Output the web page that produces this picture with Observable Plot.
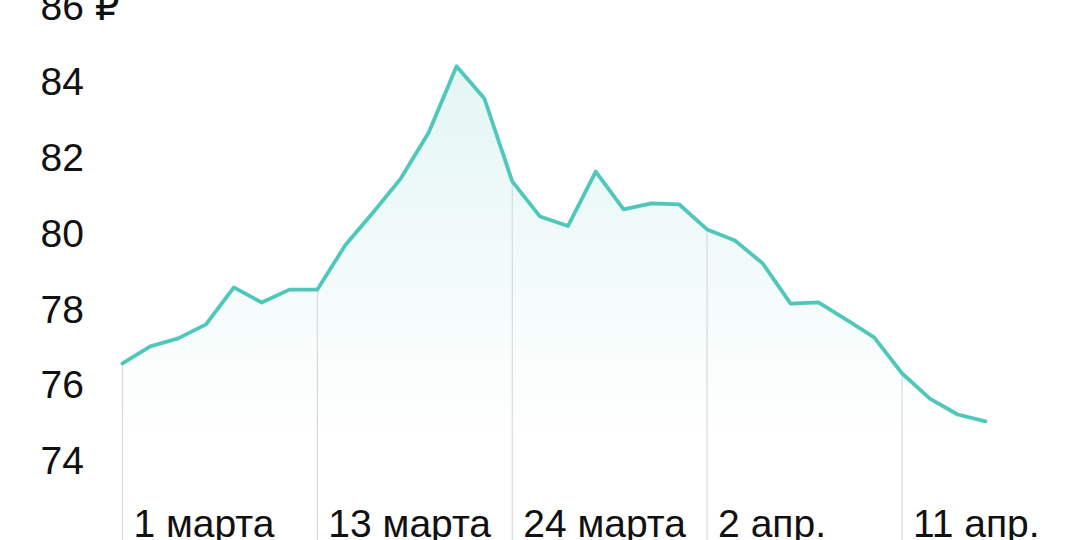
<!DOCTYPE html>
<html>
<head>
<meta charset="utf-8">
<script src="https://cdn.jsdelivr.net/npm/d3@7"></script>
<script src="https://cdn.jsdelivr.net/npm/@observablehq/plot@0.6"></script>
<style>
  html, body { margin: 0; padding: 0; background: #fff; }
  #chart svg { display: block; overflow: visible; }
</style>
</head>
<body>
<div id="chart"></div>
<script>
// Rate values (₽), one per trading day
const values = [
  76.59, 77.04, 77.25, 77.62, 78.60, 78.20, 78.54, 78.54,
  79.71, 80.58, 81.48, 82.69, 84.44, 83.59, 81.40, 80.47,
  80.22, 81.66, 80.66, 80.82, 80.79, 80.13, 79.84, 79.23,
  78.17, 78.20, 77.75, 77.28, 76.33, 75.66, 75.24, 75.06
];
// Labelled days (index into values) and their labels
const labelIndex = [0, 7, 14, 21, 28];
const labelText = ["1 марта", "13 марта", "24 марта", "2 апр.", "11 апр."];
const yTicks = [74, 76, 78, 80, 82, 84, 86];

const data = values.map((v, i) => ({i, v}));
const marks = labelIndex.map((i, k) => ({i, v: values[i], label: labelText[k]}));
const yMin = 71.91, yMax = 86.18;

const gradient = () => {
  const defs = d3.create("svg:defs");
  const g = defs.append("linearGradient")
    .attr("id", "fade").attr("x1", 0).attr("x2", 0)
    .attr("gradientUnits", "userSpaceOnUse")
    .attr("y1", 60).attr("y2", 440);
  g.append("stop").attr("offset", "0%").attr("stop-color", "#4fc7bb").attr("stop-opacity", 0.16);
  g.append("stop").attr("offset", "100%").attr("stop-color", "#4fc7bb").attr("stop-opacity", 0.0);
  return defs.node();
};

const chart = Plot.plot({
  width: 1080,
  height: 540,
  marginLeft: 122,
  marginRight: 95,
  marginTop: 0,
  marginBottom: 0,
  style: {fontFamily: "'Liberation Sans', 'DejaVu Sans', sans-serif", fontSize: "39px", color: "#111", background: "#fff"},
  x: {domain: [0, values.length - 1], axis: null},
  y: {domain: [yMin, yMax], axis: null},
  marks: [
    gradient,
    Plot.areaY(data, {x: "i", y1: yMin, y2: "v", fill: "url(#fade)"}),
    Plot.ruleX(marks, {x: "i", y1: "v", y2: yMin, stroke: "#d9d9d9", strokeWidth: 1.2}),
    Plot.lineY(data, {x: "i", y: "v", stroke: "#4fc7bb", strokeWidth: 3.8, strokeLinejoin: "round"}),
    Plot.axisY(yTicks, {
      label: null,
      tickSize: 0, tickPadding: 82, textAnchor: "start",
      tickFormat: d => d === 86 ? "86 ₽" : String(d),
      fontSize: 39, fill: "#111"
    }),
    Plot.text(marks, {
      x: "i", frameAnchor: "bottom", text: "label", textAnchor: "start",
      lineAnchor: "middle", dx: 11, dy: -16, fontSize: 39, fill: "#111"
    })
  ]
});
document.getElementById("chart").appendChild(chart);
</script>
</body>
</html>
